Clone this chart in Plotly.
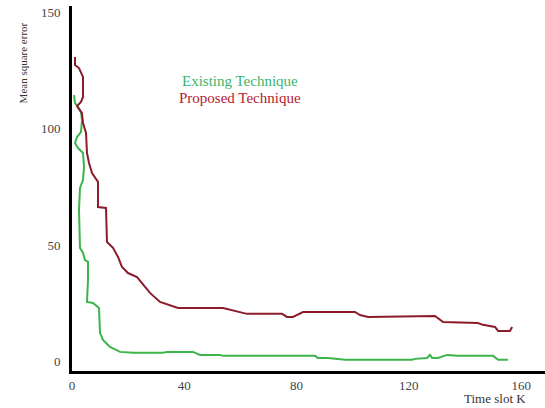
import plotly.graph_objects as go

# Proposed Technique (red)
prop_x = [1.07, 1.07, 2.49, 3.92, 3.92, 3.2, 1.78, 2.5, 3.56, 3.92, 4.99, 5.34, 6.06, 7.13, 9.26, 9.26,
          12.11, 12.47, 14.61, 16.39, 17.81, 19.95, 23.16, 27.79, 31.35, 37.76, 53.79, 62.34, 74.81,
          76.59, 78.73, 82.29, 100.82, 102.6, 105.45, 129.3, 132.2, 144.6, 146.4, 150.7, 151.8, 156.0, 156.8]
prop_y = [130.7, 127.3, 126.0, 122.2, 113.6, 111.5, 109.7, 108.5, 106.7, 102.4, 98.2, 89.6, 85.3, 81.0, 77.2, 66.4,
          66.0, 51.4, 48.9, 45.0, 40.7, 38.1, 36.4, 29.6, 25.7, 23.1, 23.1, 20.6, 20.6,
          19.3, 19.3, 21.4, 21.4, 20.1, 19.3, 19.7, 17.1, 16.7, 15.9, 15.0, 13.3, 13.3, 15.0]

# Existing Technique (green)
exist_x = [0.71, 1.07, 2.14, 3.21, 3.56, 3.21, 1.78, 1.07, 2.14, 3.92, 4.28, 3.92, 2.85, 2.49, 2.85, 3.92,
           4.63, 5.70, 5.70, 5.34, 7.48, 9.62, 9.98, 11.04, 13.54, 17.1, 21.73, 32.42, 33.84, 43.1,
           45.6, 52.7, 53.8, 86.6, 87.6, 91.2, 97.3, 121.1, 122.2, 126.5, 127.5, 128.3, 130.4,
           133.6, 137.5, 150.0, 151.8, 155.3]
exist_y = [114.4, 111.0, 109.3, 107.2, 103.7, 98.6, 96.4, 93.9, 91.7, 89.6, 83.6, 78.0, 74.6, 65.2, 48.9, 46.7,
           43.7, 42.9, 35.1, 25.7, 25.3, 23.1, 12.4, 9.4, 6.4, 4.3, 3.9, 3.9, 4.3, 4.3,
           3.0, 3.0, 2.6, 2.6, 1.7, 1.7, 0.9, 0.9, 1.3, 1.7, 3.0, 1.7, 1.7,
           3.0, 2.6, 2.6, 0.9, 0.9]

x_ticks = [0, 40, 80, 120, 160]
y_ticks = [0, 50, 100, 150]

GREEN = "#3cb54a"
RED = "#8b1c2c"
FONT = "Liberation Serif"

fig = go.Figure()
fig.add_trace(go.Scatter(x=exist_x, y=exist_y, mode="lines", name="Existing Technique",
                         line=dict(color=GREEN, width=2)))
fig.add_trace(go.Scatter(x=prop_x, y=prop_y, mode="lines", name="Proposed Technique",
                         line=dict(color=RED, width=2)))

fig.update_layout(
    width=545, height=408,
    margin=dict(l=72, r=0, t=6, b=37),
    paper_bgcolor="white", plot_bgcolor="white",
    showlegend=False,
    font=dict(family=FONT, size=13, color="#444"),
    xaxis=dict(range=[0, 168.5], tickvals=x_ticks, ticktext=[str(v) for v in x_ticks],
               showgrid=False, zeroline=False, showline=True, linecolor="black", linewidth=3,
               ticks="", ticklabelstandoff=0),
    yaxis=dict(range=[-3.9, 152.6], tickvals=y_ticks, ticktext=[str(v) for v in y_ticks],
               showgrid=False, zeroline=False, showline=True, linecolor="black", linewidth=3,
               ticks="", ticklabelstandoff=6),
    annotations=[
        dict(text="Existing Technique", xref="paper", yref="paper", x=0.355, y=0.795,
             showarrow=False, font=dict(family=FONT, size=15, color="#3db56a"),
             xanchor="center", yanchor="middle"),
        dict(text="Proposed Technique", xref="paper", yref="paper", x=0.355, y=0.748,
             showarrow=False, font=dict(family=FONT, size=15, color="#b5202e"),
             xanchor="center", yanchor="middle"),
        dict(text="Mean square error", xref="paper", yref="paper", x=-0.104, y=0.845,
             showarrow=False, textangle=-90, font=dict(family=FONT, size=11, color="#333"),
             xanchor="center", yanchor="middle"),
        dict(text="Time slot K", xref="paper", yref="paper", x=0.895, y=-0.074,
             showarrow=False, font=dict(family=FONT, size=13, color="#333"),
             xanchor="center", yanchor="middle"),
    ],
)

fig.write_html("out.html")
